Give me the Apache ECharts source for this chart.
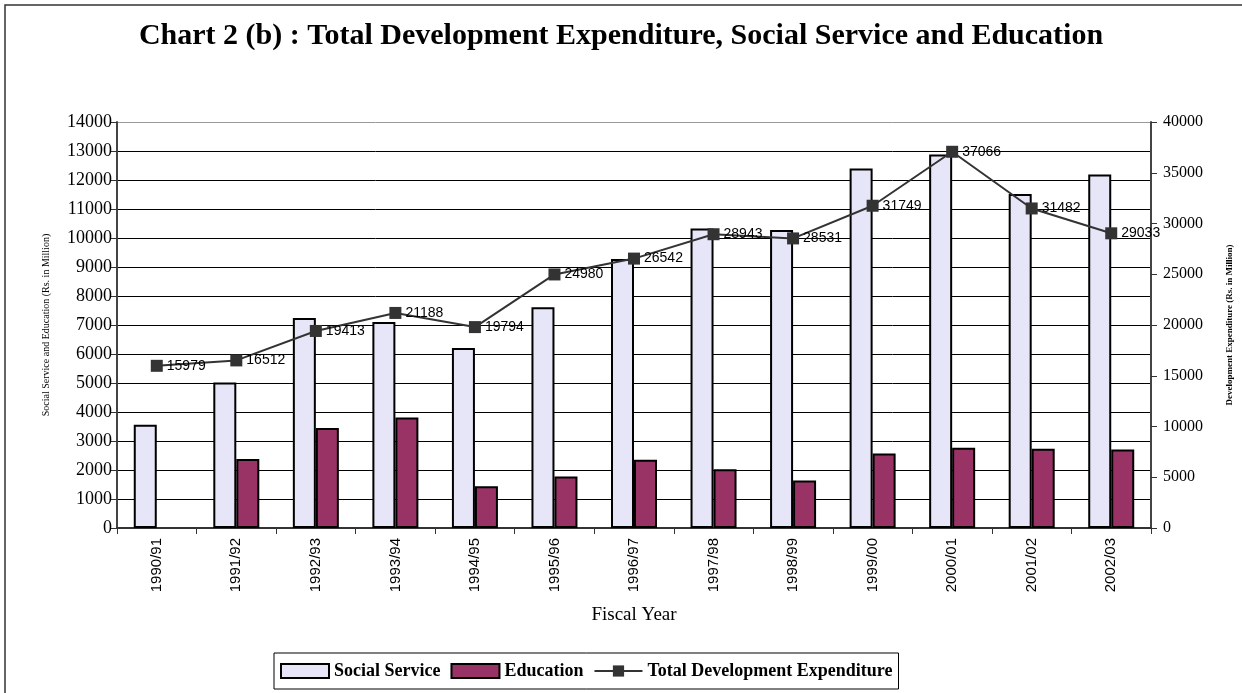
<!DOCTYPE html>
<html>
<head>
<meta charset="utf-8">
<title>Chart 2 (b)</title>
<script src="https://cdn.jsdelivr.net/npm/echarts@6/dist/echarts.min.js"></script>
<style>
  html, body { margin: 0; padding: 0; background: #fff; }
  #chart { width: 1242px; height: 693px; }
</style>
</head>
<body>
<div id="chart"></div>
<script>
// Fiscal years on the category axis
const fiscalYears = ['1990/91', '1991/92', '1992/93', '1993/94', '1994/95', '1995/96', '1996/97',
  '1997/98', '1998/99', '1999/00', '2000/01', '2001/02', '2002/03'];

// Rs. in Million (left axis)
const socialService = [3560, 5020, 7240, 7100, 6210, 7610, 9280, 10330, 10280, 12400, 12880, 11520, 12190];
const education = [null, 2380, 3450, 3810, 1440, 1780, 2350, 2030, 1640, 2570, 2770, 2730, 2710];

// Rs. in Million (right axis)
const totalDevExpenditure = [15979, 16512, 19413, 21188, 19794, 24980, 26542, 28943, 28531, 31749, 37066, 31482, 29033];

const serif = 'Liberation Serif, Times New Roman, serif';
const sans = 'Liberation Sans, Arial, sans-serif';

// last split line (top of plot area) is drawn grey, the rest black
const leftSplitColors = [];
for (let i = 0; i < 14; i++) leftSplitColors.push('#000');
leftSplitColors.push('#999');

const plain = v => String(v);

const chart = echarts.init(document.getElementById('chart'), null, { renderer: 'canvas' });

chart.setOption({
  backgroundColor: '#fff',
  animation: false,
  title: {
    text: 'Chart 2 (b) : Total Development Expenditure, Social Service and Education',
    left: 'center',
    top: 16,
    textStyle: { fontFamily: serif, fontWeight: 'bold', fontSize: 30, color: '#000' }
  },
  graphic: [{
    type: 'rect',
    shape: { x: 5, y: 5, width: 1400, height: 900 },
    style: { fill: null, stroke: '#333', lineWidth: 1.5 },
    silent: true,
    z: -1
  }],
  legend: {
    left: 274,
    top: 653,
    padding: [9, 6, 9, 6],
    borderColor: '#000',
    borderWidth: 1,
    itemGap: 10,
    itemWidth: 48,
    itemHeight: 14,
    textStyle: { fontFamily: serif, fontWeight: 'bold', fontSize: 18, color: '#000' },
    data: [
      { name: 'Social Service', icon: 'rect' },
      { name: 'Education', icon: 'rect' },
      { name: 'Total Development Expenditure' }
    ]
  },
  grid: { left: 117, right: 91, top: 122, bottom: 165 },
  xAxis: {
    type: 'category',
    data: fiscalYears,
    boundaryGap: true,
    axisLine: { lineStyle: { color: '#333', width: 2 } },
    axisTick: { show: true, inside: false, length: 6, lineStyle: { color: '#333' } },
    axisLabel: {
      rotate: 90,
      margin: 10,
      fontFamily: sans,
      fontSize: 15,
      color: '#000'
    },
    name: 'Fiscal Year',
    nameLocation: 'middle',
    nameGap: 78,
    nameTextStyle: { fontFamily: serif, fontSize: 19, color: '#000' }
  },
  yAxis: [{
    type: 'value',
    min: 0,
    max: 14000,
    interval: 1000,
    position: 'left',
    axisLine: { show: true, lineStyle: { color: '#444', width: 2 } },
    axisTick: { show: true, inside: false, length: 6, lineStyle: { color: '#333' } },
    axisLabel: { margin: 5, fontFamily: serif, fontSize: 18, color: '#000', formatter: plain },
    splitLine: { show: true, lineStyle: { color: leftSplitColors, width: 1 } },
    name: 'Social Service and Education (Rs. in Million)',
    nameLocation: 'middle',
    nameRotate: 90,
    nameGap: 66,
    nameTextStyle: { fontFamily: serif, fontSize: 10, color: '#000' }
  }, {
    type: 'value',
    min: 0,
    max: 40000,
    interval: 5000,
    position: 'right',
    axisLine: { show: true, lineStyle: { color: '#444', width: 2 } },
    axisTick: { show: true, inside: false, length: 6, lineStyle: { color: '#333' } },
    axisLabel: { margin: 12, fontFamily: serif, fontSize: 16, color: '#000', formatter: plain },
    splitLine: { show: false },
    name: 'Development Expenditure (Rs. in Million)',
    nameLocation: 'middle',
    nameRotate: 90,
    nameGap: 74,
    nameTextStyle: { fontFamily: serif, fontWeight: 'bold', fontSize: 9, color: '#000' }
  }],
  series: [{
    name: 'Social Service',
    type: 'bar',
    yAxisIndex: 0,
    data: socialService,
    barWidth: 23,
    barGap: '0%',
    itemStyle: { color: '#e6e6f8', borderColor: '#000', borderWidth: 2 }
  }, {
    name: 'Education',
    type: 'bar',
    yAxisIndex: 0,
    data: education,
    barWidth: 23,
    barGap: '0%',
    itemStyle: { color: '#993366', borderColor: '#000', borderWidth: 2 }
  }, {
    name: 'Total Development Expenditure',
    type: 'line',
    yAxisIndex: 1,
    data: totalDevExpenditure,
    symbol: 'rect',
    symbolSize: 12,
    lineStyle: { color: '#333', width: 2 },
    itemStyle: { color: '#333' },
    label: {
      show: true,
      position: 'right',
      distance: 4,
      fontFamily: sans,
      fontSize: 14,
      color: '#000'
    },
    z: 5
  }]
});
</script>
</body>
</html>
